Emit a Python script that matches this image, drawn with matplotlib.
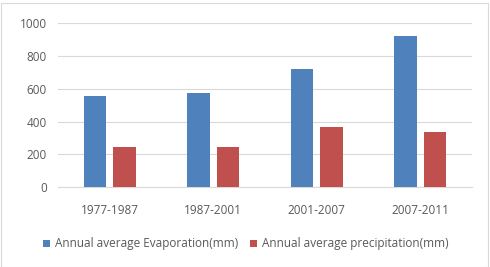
import numpy as np
import matplotlib.pyplot as plt
from matplotlib.patches import Rectangle

periods = ["1977-1987", "1987-2001", "2001-2007", "2007-2011"]
evaporation = [558, 575, 720, 925]
precipitation = [247, 246, 365, 335]
y_ticks = [0, 200, 400, 600, 800, 1000]

BLUE = "#4F81BD"
RED = "#C0504D"
TXT = "#595959"

plt.rcParams['font.family'] = ['Open Sans', 'DejaVu Sans']

fig = plt.figure(figsize=(4.9, 2.67), dpi=100)
ax = fig.add_axes([58/490, 1 - 187/267, (472 - 58)/490, (187 - 23.3)/267])

x = np.arange(len(periods))
w, off = 0.22, 0.143
ax.bar(x - off, evaporation, w, color=BLUE, label="Annual average Evaporation(mm)", zorder=3)
ax.bar(x + off, precipitation, w, color=RED, label="Annual average precipitation(mm)", zorder=3)

ax.set_xlim(-0.5, len(periods) - 0.5)
ax.set_ylim(0, 1000)
ax.set_yticks(y_ticks)
ax.set_xticks(x)
ax.set_xticklabels(periods)
ax.yaxis.grid(True, color="#D9D9D9", lw=0.8, zorder=0)
for s in ["top", "right", "left"]:
    ax.spines[s].set_visible(False)
ax.spines["bottom"].set_color("#D9D9D9")
ax.tick_params(axis="both", length=0, labelsize=8.5, colors=TXT)
ax.tick_params(axis="x", pad=12)
ax.tick_params(axis="y", pad=8)

leg = fig.legend(loc="center", bbox_to_anchor=(246/490, 1 - 244/267), ncol=2, frameon=False,
                 fontsize=8.5, handlelength=0.6, handleheight=0.6, handletextpad=0.4,
                 columnspacing=1.0, borderaxespad=0)
for t in leg.get_texts():
    t.set_color(TXT)

fig.patches.append(Rectangle((1/490, 0), 487/490, 1 - 3/267, transform=fig.transFigure,
                             fill=False, edgecolor="#D9D9D9", lw=0.8))

fig.savefig("out.png", dpi=100)
